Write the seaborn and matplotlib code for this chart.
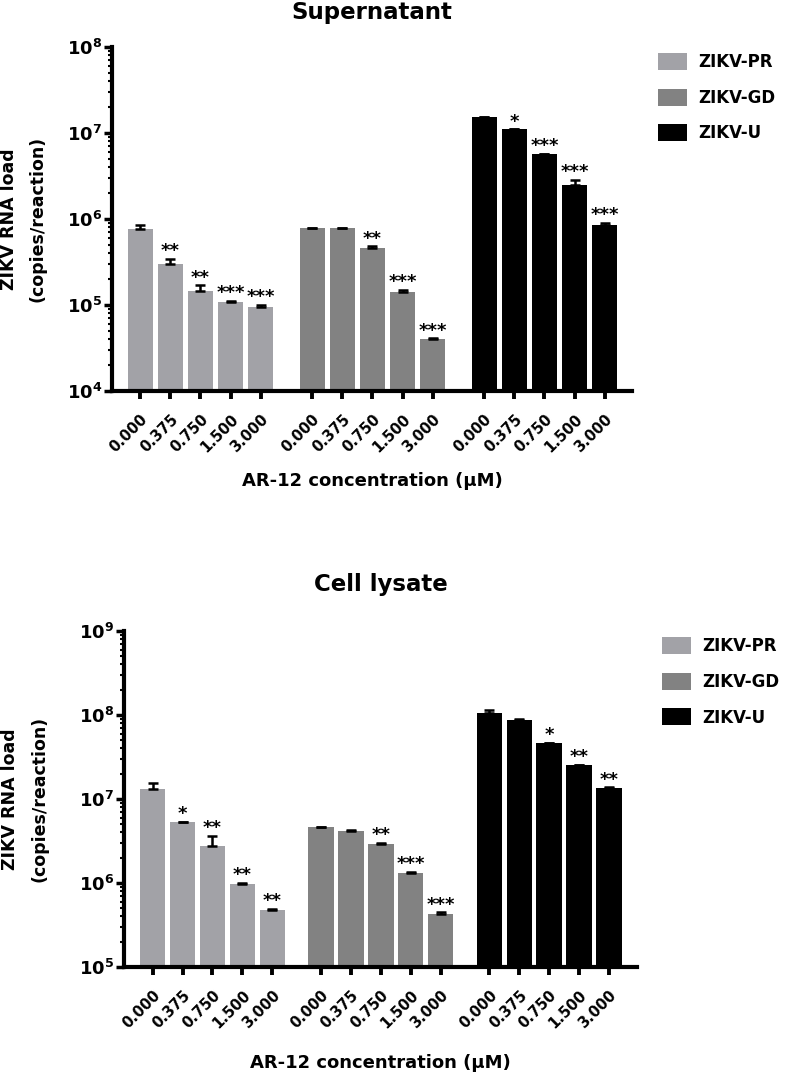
import numpy as np
import pandas as pd
import matplotlib
matplotlib.use("Agg")
import matplotlib.pyplot as plt
from matplotlib.patches import Patch
from matplotlib.ticker import LogLocator, NullFormatter
import seaborn as sns


# DATA

doses = ["0.000", "0.375", "0.750", "1.500", "3.000"]
strains = ["ZIKV-PR", "ZIKV-GD", "ZIKV-U"]
strain_colors = ["#a2a2a7", "#828282", "#000000"]

# supernatant
sup_pr = [7.7e5, 3.0e5, 1.47e5, 1.09e5, 9.4e4]
sup_gd = [7.8e5, 7.8e5, 4.56e5, 1.42e5, 4.0e4]
sup_u = [1.53e7, 1.10e7, 5.65e6, 2.5e6, 8.45e5]
sup_pr_err = [0.8e5, 0.43e5, 0.22e5, 0.03e5, 0.06e5]
sup_gd_err = [0.1e5, 0.1e5, 0.25e5, 0.08e5, 0.1e4]
sup_u_err = [0.02e7, 0.03e6, 0.05e6, 0.34e6, 0.6e5]
sup_pr_sig = ["", "**", "**", "***", "***"]
sup_gd_sig = ["", "", "**", "***", "***"]
sup_u_sig = ["", "*", "***", "***", "***"]

# cell lysate
lys_pr = [1.31e7, 5.28e6, 2.79e6, 9.8e5, 4.8e5]
lys_gd = [4.6e6, 4.2e6, 2.92e6, 1.32e6, 4.25e5]
lys_u = [1.07e8, 8.77e7, 4.58e7, 2.54e7, 1.36e7]
lys_pr_err = [0.24e7, 0.1e6, 0.87e6, 0.3e5, 0.1e5]
lys_gd_err = [0.05e6, 0.05e6, 0.08e6, 0.03e6, 0.25e5]
lys_u_err = [0.07e8, 0.1e7, 0.05e7, 0.03e7, 0.02e7]
lys_pr_sig = ["", "*", "**", "**", "**"]
lys_gd_sig = ["", "", "**", "***", "***"]
lys_u_sig = ["", "", "*", "**", "**"]


# STYLE

sns.set_theme(style="ticks")
plt.rcParams["font.family"] = ["DejaVu Sans"]
plt.rcParams["font.weight"] = "bold"
plt.rcParams["mathtext.fontset"] = "dejavusans"
for key in ["text.color", "axes.labelcolor", "xtick.color", "ytick.color", "axes.edgecolor"]:
    plt.rcParams[key] = "black"

W, H = 787, 1078
fig = plt.figure(figsize=(W / 100, H / 100), dpi=100)


def build_frame(groups, errs, sigs, gap):
    rows = []
    for g, (strain, vals) in enumerate(zip(strains, groups)):
        for i, dose in enumerate(doses):
            rows.append({
                "pos": g * (len(doses) - 1 + gap) + i,
                "dose": dose,
                "strain": strain,
                "value": vals[i],
                "err": errs[g][i],
                "sig": sigs[g][i],
            })
    return pd.DataFrame(rows)


def draw_panel(rect, df, ylim, xlim, title, title_y, bar_w, ylab_x, xlab_y, leg_xy):
    ax = fig.add_axes(rect)
    ax.set_yscale("log", nonpositive="clip")
    sns.barplot(data=df, x="pos", y="value", hue="strain", hue_order=strains,
                palette=strain_colors, native_scale=True, dodge=False,
                width=bar_w, saturation=1, errorbar=None, legend=False,
                linewidth=0, ax=ax)
    ax.set_yscale("log", nonpositive="clip")

    ax.errorbar(df["pos"], df["value"],
                yerr=[np.zeros(len(df)), df["err"]],
                fmt="none", ecolor="black", elinewidth=1.8,
                capsize=3.6, capthick=1.8, zorder=3)

    for _, r in df.iterrows():
        if r["sig"]:
            ax.annotate(r["sig"], (r["pos"], r["value"] + r["err"]),
                        xytext=(0, -1), textcoords="offset points",
                        ha="center", va="bottom", fontsize=13,
                        fontweight="bold", color="black")

    ax.set_ylim(*ylim)
    ax.set_xlim(*xlim)
    lo, hi = int(np.log10(ylim[0])), int(np.log10(ylim[1]))
    decades = [10.0 ** k for k in range(lo, hi + 1)]
    ax.set_yticks(decades)
    ax.set_yticklabels([r"$\mathbf{10^{%d}}$" % k for k in range(lo, hi + 1)])
    ax.yaxis.set_minor_locator(LogLocator(base=10, subs=np.arange(2, 10), numticks=20))
    ax.yaxis.set_minor_formatter(NullFormatter())

    ax.set_xticks(df["pos"])
    ax.set_xticklabels(df["dose"], rotation=45, ha="right",
                       rotation_mode="anchor", fontsize=10.5, fontweight="bold")

    sns.despine(ax=ax)
    for s in ["left", "bottom"]:
        ax.spines[s].set_linewidth(3)
        ax.spines[s].set_color("black")
    ax.tick_params(axis="y", which="major", length=6, width=2.5, labelsize=13, pad=1)
    ax.tick_params(axis="y", which="minor", length=3, width=1.5)
    ax.tick_params(axis="x", which="major", length=6, width=2.8, pad=9)

    ax.set_xlabel("AR-12 concentration (\u03bcM)", fontsize=13, fontweight="bold")
    ax.set_ylabel("ZIKV RNA load\n(copies/reaction)", fontsize=12.5,
                  fontweight="bold", linespacing=1.8)
    ax.xaxis.set_label_coords(0.5, xlab_y)
    ax.yaxis.set_label_coords(ylab_x, 0.5)
    ax.grid(False)

    fig.text(rect[0] + rect[2] / 2, title_y, title, ha="center", va="center",
             fontsize=16.5, fontweight="bold")

    handles = [Patch(facecolor=c, edgecolor="none") for c in strain_colors]
    fig.legend(handles, strains, loc="upper left", bbox_to_anchor=leg_xy,
               frameon=False, prop={"weight": "bold", "size": 12},
               handlelength=1.75, handleheight=1.2, labelspacing=1.05,
               handletextpad=0.65, borderpad=0, borderaxespad=0)
    return ax


sup_df = build_frame([sup_pr, sup_gd, sup_u],
                     [sup_pr_err, sup_gd_err, sup_u_err],
                     [sup_pr_sig, sup_gd_sig, sup_u_sig], gap=1.7)
lys_df = build_frame([lys_pr, lys_gd, lys_u],
                     [lys_pr_err, lys_gd_err, lys_u_err],
                     [lys_pr_sig, lys_gd_sig, lys_u_sig], gap=1.63)

draw_panel([112 / W, 1 - 391 / H, 520 / W, 344 / H], sup_df,
           ylim=(1e4, 1e8), xlim=(-0.93, 16.3), title="Supernatant",
           title_y=1 - 13 / H, bar_w=0.83, ylab_x=-0.125, xlab_y=-0.235,
           leg_xy=(658 / W, 1 - 53 / H))

draw_panel([124 / W, 1 - 967 / H, 513 / W, 336 / H], lys_df,
           ylim=(1e5, 1e9), xlim=(-0.96, 16.2), title="Cell lysate",
           title_y=1 - 585 / H, bar_w=0.85, ylab_x=-0.148, xlab_y=-0.258,
           leg_xy=(662 / W, 1 - 637 / H))

fig.savefig("out.png", dpi=100)
